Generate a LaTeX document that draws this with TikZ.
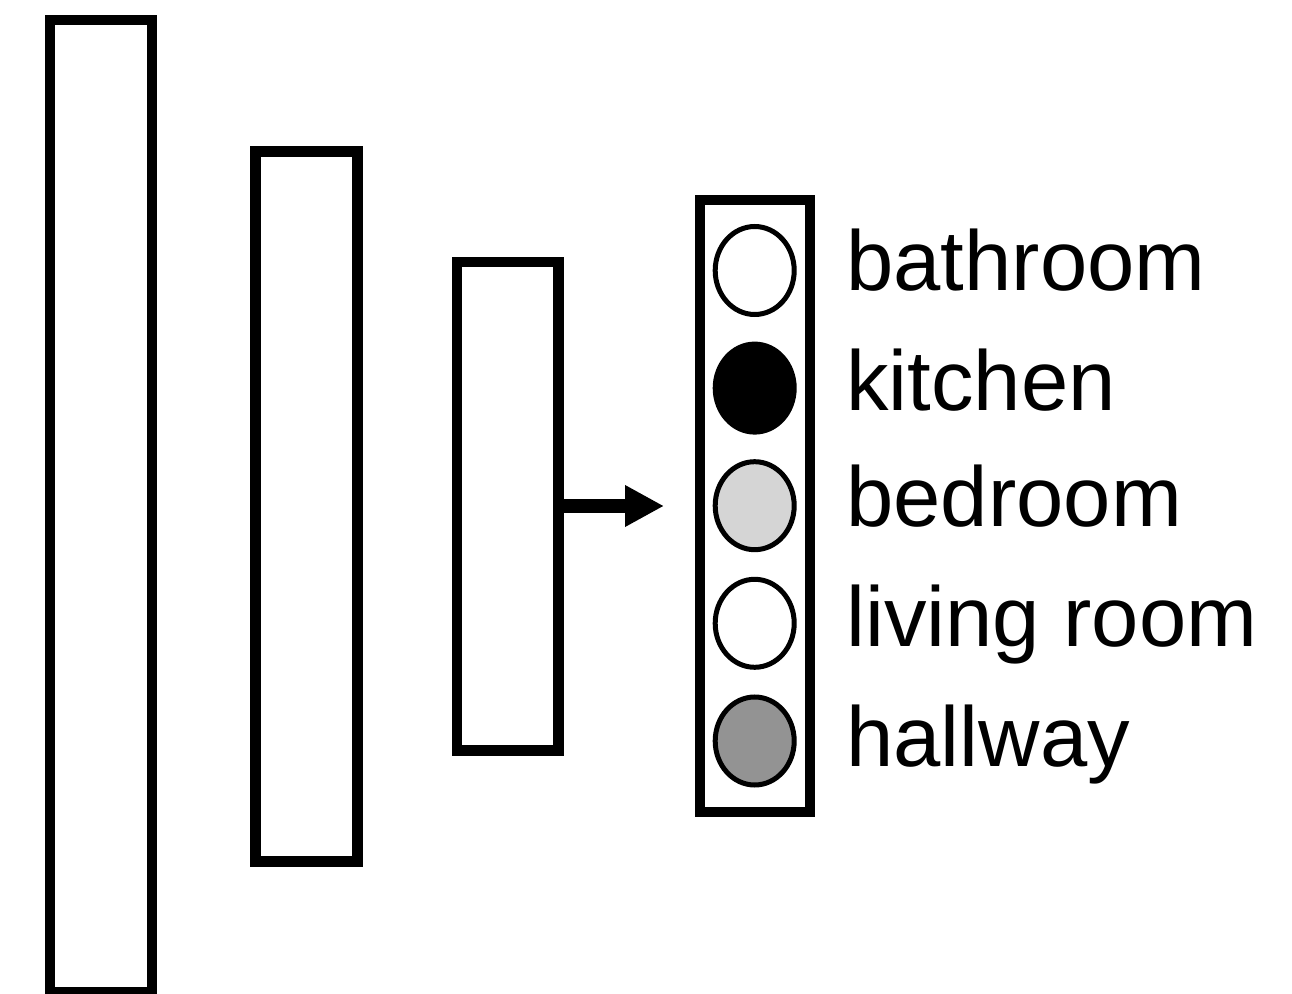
\documentclass[tikz,border=0pt]{standalone}
\usepackage{fontspec}
\setmainfont{Liberation Sans}
\usetikzlibrary{shapes.geometric,arrows.meta}
\definecolor{lightfill}{HTML}{D5D5D5}
\definecolor{darkfill}{HTML}{939393}
\begin{document}
\begin{tikzpicture}[x=0.5pt,y=-0.5pt,
  layerbox/.style={draw=black,line width=5.3pt,fill=white,inner sep=0pt,rectangle},
  outbox/.style={draw=black,line width=5pt,fill=white,inner sep=0pt,rectangle,minimum width=54.75pt,minimum height=306pt},
  unit/.style={draw=black,line width=2.5pt,ellipse,inner sep=0pt,minimum width=39.5pt,minimum height=44pt},
  lab/.style={anchor=base west,inner sep=0pt,font=\fontsize{42.5pt}{50pt}\selectfont},
  bigarrow/.style={line width=7pt,-{Triangle[length=19.5pt,width=19.5pt]}}]
\useasboundingbox (0,0) rectangle (1292,994);
\node[layerbox,minimum width=51pt,minimum height=486pt] (l1) at (101,506) {};
\node[layerbox,minimum width=51.1pt,minimum height=355pt] (l2) at (306.4,506.3) {};
\node[layerbox,minimum width=50.85pt,minimum height=244.25pt] (l3) at (507.85,506.25) {};
\node[outbox] (out) at (754.75,506) {};
\node[unit,fill=white] (u1) at (754.7,270.5) {};
\node[unit,fill=black] (u2) at (754.7,388.1) {};
\node[unit,fill=lightfill] (u3) at (754.7,505.7) {};
\node[unit,fill=white] (u4) at (754.7,623.3) {};
\node[unit,fill=darkfill] (u5) at (754.7,741) {};
\node[lab] (t1) at (846,291) {bathroom};
\node[lab] (t2) at (846,411) {kitchen};
\node[lab] (t3) at (846,527) {bedroom};
\node[lab] (t4) at (846,647) {living room};
\node[lab] (t5) at (846,767) {hallway};
\coordinate (tip) at (664,506);
\draw[bigarrow] (l3.east |- tip) -- (tip);
\end{tikzpicture}
\end{document}
